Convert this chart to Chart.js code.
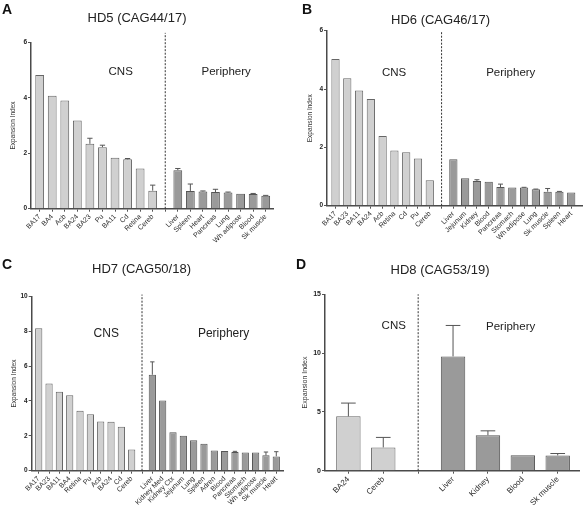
<!DOCTYPE html>
<html>
<head>
<meta charset="utf-8">
<script src="https://cdn.jsdelivr.net/npm/chart.js@4.4.1/dist/chart.umd.min.js"></script>
<style>
  body { margin: 0; background: #fff; }
  #wrap { position: relative; width: 583px; height: 508px; overflow: hidden; font-family: "Liberation Sans", Arial, sans-serif; }
  canvas { position: absolute; }
  .letter { position: absolute; font-weight: bold; font-size: 14px; line-height: 1; color: #111; }
</style>
</head>
<body>
<div id="wrap">
  <canvas id="chartA" width="274" height="254" style="left:0px;top:0px"></canvas>
  <canvas id="chartB" width="285" height="254" style="left:298px;top:0px"></canvas>
  <canvas id="chartC" width="285" height="254" style="left:0px;top:254px"></canvas>
  <canvas id="chartD" width="282" height="254" style="left:301px;top:254px"></canvas>
  <div class="letter" style="left:2px;top:2px">A</div>
  <div class="letter" style="left:302px;top:2px">B</div>
  <div class="letter" style="left:2px;top:257px">C</div>
  <div class="letter" style="left:296px;top:257px">D</div>
</div>
<script>
// grupos
const groupLabels = ['CNS', 'Periphery'];
const yTitle = 'Expansion Index';

// HD5
const cnsA = ['BA17', 'BA4', 'Acb', 'BA24', 'BA23', 'Pu', 'BA11', 'Cd', 'Retina', 'Cereb'];
const cnsValA = [4.82, 4.07, 3.90, 3.18, 2.34, 2.22, 1.84, 1.78, 1.45, 0.65];
const cnsErrA = [0, 0, 0, 0, 0.20, 0.07, 0, 0.03, 0, 0.20];
const periA = ['Liver', 'Spleen', 'Heart', 'Pancreas', 'Lung', 'Wh adipose', 'Blood', 'Sk muscle'];
const periValA = [1.39, 0.64, 0.62, 0.60, 0.58, 0.54, 0.53, 0.47];
const periErrA = [0.06, 0.25, 0.02, 0.10, 0.02, 0, 0.02, 0.01];
const yTicksA = [0, 2, 4, 6];

// HD6
const cnsB = ['BA17', 'BA23', 'BA11', 'BA24', 'Acb', 'Retina', 'Cd', 'Pu', 'Cereb'];
const cnsValB = [5.03, 4.37, 3.95, 3.66, 2.39, 1.89, 1.83, 1.62, 0.87];
const cnsErrB = [0, 0, 0, 0, 0, 0, 0, 0, 0];
const periB = ['Liver', 'Jejunum', 'Kidney', 'Blood', 'Pancreas', 'Stomach', 'Wh adipose', 'Lung', 'Sk muscle', 'Spleen', 'Heart'];
const periValB = [1.59, 0.94, 0.85, 0.82, 0.64, 0.62, 0.62, 0.56, 0.48, 0.48, 0.45];
const periErrB = [0, 0, 0.04, 0, 0.10, 0, 0.01, 0.01, 0.11, 0.01, 0];
const yTicksB = [0, 2, 4, 6];

// HD7
const cnsC = ['BA17', 'BA23', 'BA11', 'BA4', 'Retina', 'Pu', 'Acb', 'BA24', 'Cd', 'Cereb'];
const cnsValC = [8.17, 5.00, 4.52, 4.33, 3.44, 3.23, 2.82, 2.81, 2.52, 1.22];
const cnsErrC = [0, 0, 0, 0, 0, 0, 0, 0, 0, 0];
const periC = ['Liver', 'Kidney Med', 'Kidney Ctx', 'Jejunum', 'Lung', 'Spleen', 'Adren', 'Blood', 'Pancreas', 'Stomach', 'Wh adipose', 'Sk muscle', 'Heart'];
const periValC = [5.50, 4.03, 2.21, 2.00, 1.74, 1.55, 1.16, 1.13, 1.07, 1.05, 1.05, 0.88, 0.82];
const periErrC = [0.74, 0, 0, 0, 0, 0, 0, 0, 0.04, 0, 0, 0.19, 0.27];
const yTicksC = [0, 2, 4, 6, 8, 10];

// HD8
const cnsD = ['BA24', 'Cereb'];
const cnsValD = [4.62, 1.98];
const cnsErrD = [1.13, 0.85];
const periD = ['Liver', 'Kidney', 'Blood', 'Sk muscle'];
const periValD = [9.72, 3.02, 1.32, 1.30];
const periErrD = [2.63, 0.37, 0, 0.16];
const yTicksD = [0, 5, 10, 15];

const FONT = '"Liberation Sans", Arial, sans-serif';
Chart.defaults.font.family = FONT;
Chart.defaults.color = '#333';

// barras de error (solo hacia arriba, con tapa)
const errorBars = {
  id: 'errorBars',
  afterDatasetsDraw(chart, args, opts) {
    const meta = chart.getDatasetMeta(0);
    const y = chart.scales.y;
    const pts = chart.data.datasets[0].data;
    const ctx = chart.ctx;
    ctx.save();
    ctx.strokeStyle = '#555';
    ctx.lineWidth = 1;
    meta.data.forEach((bar, i) => {
      const e = opts.errors[i];
      if (!e) return;
      const top = y.getPixelForValue(pts[i].y + e);
      const half = bar.width * 0.3;
      ctx.beginPath();
      ctx.moveTo(bar.x, bar.y);
      ctx.lineTo(bar.x, top);
      ctx.moveTo(bar.x - half, top);
      ctx.lineTo(bar.x + half, top);
      ctx.stroke();
    });
    ctx.restore();
  }
};

// línea punteada y textos CNS / Periphery
const dividers = {
  id: 'dividers',
  afterDraw(chart, args, o) {
    const { ctx, scales: { x, y } } = chart;
    ctx.save();
    ctx.setLineDash([2, 1.5]);
    ctx.strokeStyle = '#333';
    ctx.lineWidth = 1;
    const gx = x.getPixelForValue(o.gap);
    ctx.beginPath();
    ctx.moveTo(gx, y.getPixelForValue(0));
    ctx.lineTo(gx, y.getPixelForValue(o.dashTop));
    ctx.stroke();
    ctx.setLineDash([]);
    ctx.fillStyle = '#222';
    ctx.font = o.size + 'px ' + FONT;
    ctx.textAlign = 'center';
    ctx.textBaseline = 'middle';
    ctx.fillText(groupLabels[0], x.getPixelForValue(o.cnsAt[0]), y.getPixelForValue(o.cnsAt[1]));
    ctx.fillText(groupLabels[1], x.getPixelForValue(o.periAt[0]), y.getPixelForValue(o.periAt[1]));
    ctx.restore();
  }
};

const panels = [
  { id: 'chartA', title: 'HD5 (CAG44/17)', cns: cnsA, cnsVal: cnsValA, cnsErr: cnsErrA, peri: periA, periVal: periValA, periErr: periErrA, yTicks: yTicksA,
    xMin: -0.69, xMax: 18.66, yAxisW: 31, xAxisH: 45.3, titlePad: { top: 10.9, bottom: 15.8 }, padR: 0, yTitlePad: 9.8,
    cnsAt: [6.45, 4.93], periAt: [14.85, 4.93], dashTop: 6.34, textSize: 11.5, xFont: 7, yFont: 6.5 },
  { id: 'chartB', title: 'HD6 (CAG46/17)', cns: cnsB, cnsVal: cnsValB, cnsErr: cnsErrB, peri: periB, periVal: periValB, periErr: periErrB, yTicks: yTicksB,
    xMin: -0.72, xMax: 21.0, yAxisW: 29, xAxisH: 48.3, titlePad: { top: 12.7, bottom: 2.4 }, padR: 0, yTitlePad: 8.8,
    cnsAt: [4.97, 4.54], periAt: [14.87, 4.54], dashTop: 5.95, textSize: 11.5, xFont: 7, yFont: 6.5 },
  { id: 'chartC', title: 'HD7 (CAG50/18)', cns: cnsC, cnsVal: cnsValC, cnsErr: cnsErrC, peri: periC, periVal: periValC, periErr: periErrC, yTicks: yTicksC,
    xMin: -0.68, xMax: 23.65, yAxisW: 31.7, xAxisH: 37.3, titlePad: { top: 7.5, bottom: 19.2 }, padR: 2, yTitlePad: 10.6,
    cnsAt: [6.54, 7.88], periAt: [17.9, 7.85], dashTop: 10.1, textSize: 12, xFont: 7, yFont: 6.5 },
  { id: 'chartD', title: 'HD8 (CAG53/19)', cns: cnsD, cnsVal: cnsValD, cnsErr: cnsErrD, peri: periD, periVal: periValD, periErr: periErrD, yTicks: yTicksD,
    xMin: -0.67, xMax: 6.61, yAxisW: 24, xAxisH: 37.3, titlePad: { top: 8.5, bottom: 16.2 }, padR: 4, yTitlePad: 0,
    cnsAt: [1.3, 12.3], periAt: [4.65, 12.2], dashTop: 15, textSize: 11.5, xFont: 8, yFont: 7 }
];

panels.forEach(p => {
  const gap = p.cns.length;
  const labels = [...p.cns, '', ...p.peri];
  const points = [];
  const colors = [];
  const borders = [];
  const errors = [];
  p.cnsVal.forEach((v, i) => { points.push({ x: i, y: v }); colors.push('#d0d0d0'); borders.push('#666'); errors.push(p.cnsErr[i]); });
  p.periVal.forEach((v, i) => { points.push({ x: gap + 1 + i, y: v }); colors.push('#9a9a9a'); borders.push('#555'); errors.push(p.periErr[i]); });

  const yMax = p.yTicks[p.yTicks.length - 1];
  const yStep = p.yTicks[1] - p.yTicks[0];

  new Chart(document.getElementById(p.id), {
    type: 'bar',
    data: {
      datasets: [{
        data: points,
        backgroundColor: colors,
        borderColor: borders,
        borderWidth: 1,
        barPercentage: 0.7,
        categoryPercentage: 1
      }]
    },
    options: {
      responsive: false,
      animation: false,
      layout: { padding: { left: 0, right: p.padR, top: 0, bottom: 0 } },
      plugins: {
        legend: { display: false },
        tooltip: { enabled: false },
        title: { display: true, text: p.title, color: '#222', font: { size: 13, weight: 'normal' }, padding: p.titlePad },
        errorBars: { errors: errors },
        dividers: { gap: gap, dashTop: p.dashTop, cnsAt: p.cnsAt, periAt: p.periAt, size: p.textSize }
      },
      scales: {
        x: {
          type: 'linear',
          min: p.xMin,
          max: p.xMax,
          bounds: 'data',
          offset: false,
          grid: { display: true, drawOnChartArea: false, drawTicks: true, tickLength: 3, color: '#555', offset: false },
          border: { display: true, color: '#4a4a4a', width: 1.5 },
          afterBuildTicks: s => { s.ticks = labels.map((_, i) => ({ value: i })); },
          ticks: {
            autoSkip: false,
            minRotation: 45,
            maxRotation: 45,
            padding: 1,
            color: '#2a2a2a',
            font: { size: p.xFont },
            callback: v => labels[v]
          },
          afterFit: s => { s.height = p.xAxisH; }
        },
        y: {
          min: 0,
          max: yMax,
          grid: { display: true, drawOnChartArea: false, drawTicks: true, tickLength: 3, color: '#555' },
          border: { display: true, color: '#4a4a4a', width: 1.5 },
          ticks: { stepSize: yStep, padding: 1, color: '#222', font: { size: p.yFont, weight: 'bold' } },
          title: { display: true, text: yTitle, color: '#333', font: { size: p.yFont }, padding: { top: p.yTitlePad, bottom: 0 } },
          afterFit: s => { s.width = p.yAxisW; }
        }
      }
    },
    plugins: [errorBars, dividers]
  });
});
</script>
</body>
</html>
